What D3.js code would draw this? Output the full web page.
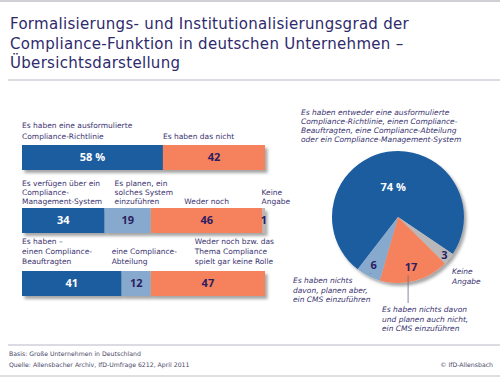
<!DOCTYPE html>
<html>
<head>
<meta charset="utf-8">
<script src="https://cdn.jsdelivr.net/npm/d3@7"></script>
<style>
  html, body { margin: 0; padding: 0; background: #fff; }
  svg { display: block; font-family: "DejaVu Sans", sans-serif; }
  .lbl { fill: #3a3370; font-size: 7.5px; }
  .pie-lbl { fill: #3a3370; font-size: 7.5px; font-style: italic; }
  .num { font-family: "Open Sans", sans-serif; font-size: 11px; font-weight: 700; }
  .foot { fill: #4a4868; font-size: 6.2px; }
</style>
</head>
<body>
<div id="chart"></div>
<script>
// ---- data ----
const titleLines = [
  "Formalisierungs- und Institutionalisierungsgrad der",
  "Compliance-Funktion in deutschen Unternehmen –",
  "Übersichtsdarstellung",
];

const richtlinieValues = [58, 42];
const richtlinieLabels = [
  ["Es haben eine ausformulierte", "Compliance-Richtlinie"],
  ["Es haben das nicht"],
];

const cmsValues = [34, 19, 46, 1];
const cmsLabels = [
  ["Es verfügen über ein", "Compliance-", "Management-System"],
  ["Es planen, ein", "solches System", "einzuführen"],
  ["Weder noch"],
  ["Keine", "Angabe"],
];

const beauftragteValues = [41, 12, 47];
const beauftragteLabels = [
  ["Es haben –", "einen Compliance-", "Beauftragten"],
  ["eine Compliance-", "Abteilung"],
  ["Weder noch bzw. das", "Thema Compliance", "spielt gar keine Rolle"],
];

const pieCategories = ["ja", "keine", "nein", "geplant"];
const pieValues = [74, 3, 17, 6];
const pieHeader = [
  "Es haben entweder eine ausformulierte",
  "Compliance-Richtlinie, einen Compliance-",
  "Beauftragten, eine Compliance-Abteilung",
  "oder ein Compliance-Management-System",
];
const pieNotes = {
  geplant: ["Es haben nichts", "davon, planen aber,", "ein CMS einzuführen"],
  nein: ["Es haben nichts davon", "und planen auch nicht,", "ein CMS einzuführen"],
  keine: ["Keine", "Angabe"],
};

const footLines = [
  "Basis: Große Unternehmen in Deutschland",
  "Quelle: Allensbacher Archiv, IfD-Umfrage 6212, April 2011",
];
const copyright = "© IfD-Allensbach";

// ---- styles / layout ----
const dark = "#1e5da0";
const light = "#87a9cd";
const orange = "#f5815d";
const grey = "#b8b8ba";
const navy = "#2b1d62";

const rowData = [
  { values: richtlinieValues, labels: richtlinieLabels, colors: [dark, orange] },
  { values: cmsValues, labels: cmsLabels, colors: [dark, light, orange, grey] },
  { values: beauftragteValues, labels: beauftragteLabels, colors: [dark, light, orange] },
];

// label x offset from segment start ("mid" = centered on segment)
const labelDx = [
  [0, 0],
  [0, 10, "mid", -1],
  [0, -10, 44],
];
const labelBottom = [-6, -4, -7];
const lineH = [11, 9.2, 10];

const W = 500, H = 377;
const svg = d3.select("#chart").append("svg").attr("width", W).attr("height", H);

const defs = svg.append("defs");
const shadow = defs.append("filter").attr("id", "shadow")
  .attr("x", "-10%").attr("y", "-30%").attr("width", "130%").attr("height", "180%");
shadow.append("feDropShadow")
  .attr("dx", 2.5).attr("dy", 3).attr("stdDeviation", 1.8)
  .attr("flood-color", "#000").attr("flood-opacity", 0.35);

// frame lines
svg.append("line").attr("x1", 0).attr("x2", W).attr("y1", 1).attr("y2", 1)
  .attr("stroke", "#cfcfd6").attr("stroke-width", 2);
svg.append("line").attr("x1", 8).attr("x2", W).attr("y1", 80).attr("y2", 80)
  .attr("stroke", "#b9b7c9").attr("stroke-width", 1.2);
svg.append("line").attr("x1", 8).attr("x2", W).attr("y1", 345).attr("y2", 345)
  .attr("stroke", "#b9b7c9").attr("stroke-width", 1);
svg.append("line").attr("x1", 0).attr("x2", W).attr("y1", 376).attr("y2", 376)
  .attr("stroke", "#d5d5da").attr("stroke-width", 1.5);

// title
svg.append("text")
  .attr("fill", "#2e2a6c")
  .attr("font-size", 15)
  .attr("letter-spacing", 0.3)
  .selectAll("tspan")
  .data(titleLines)
  .join("tspan")
  .attr("x", 10)
  .attr("y", (d, i) => 29 + i * 19.5)
  .text((d) => d);

// ---- bars ----
const x = d3.scaleLinear().domain([0, 100]).range([22, 265]);
const yRow = d3.scaleLinear().domain([0, 2]).range([145, 271]);
const barH = 25;

rowData.forEach((row, ri) => {
  const starts = d3.cumsum([0, ...row.values]).slice(0, row.values.length);
  const segs = row.values.map((v, i) => ({ v, s: starts[i], i }));
  const top = yRow(ri);

  const g = svg.append("g");
  g.append("g")
    .attr("filter", "url(#shadow)")
    .selectAll("rect")
    .data(segs)
    .join("rect")
    .attr("x", (d) => x(d.s))
    .attr("y", top)
    .attr("width", (d) => x(d.s + d.v) - x(d.s))
    .attr("height", barH)
    .attr("fill", (d) => row.colors[d.i]);

  g.selectAll(".num")
    .data(segs)
    .join("text")
    .attr("class", "num")
    .attr("x", (d) => x(d.s + d.v / 2))
    .attr("y", top + barH / 2)
    .attr("dy", "0.36em")
    .attr("text-anchor", "middle")
    .attr("fill", (d) => (row.colors[d.i] === dark ? "#fff" : navy))
    .text((d) => (ri === 0 && d.i === 0 ? `${d.v} %` : d.v));

  // category labels above bar
  segs.forEach((d) => {
    const lines = row.labels[d.i];
    const off = labelDx[ri][d.i];
    const mid = off === "mid";
    const lx = mid ? x(d.s + d.v / 2) : x(d.s) + off;
    const lastY = top + labelBottom[ri];
    g.append("text")
      .attr("class", "lbl")
      .attr("text-anchor", mid ? "middle" : "start")
      .selectAll("tspan")
      .data(lines)
      .join("tspan")
      .attr("x", lx)
      .attr("y", (t, k) => lastY - (lines.length - 1 - k) * lineH[ri])
      .text((t) => t);
  });
});

// ---- pie ----
const cx = 398, cy = 217, radius = 66;
const pieColors = d3.scaleOrdinal().domain(pieCategories).range([dark, grey, orange, light]);
const start = (-142.4 * Math.PI) / 180;
const pie = d3.pie().sort(null).startAngle(start).endAngle(start + 2 * Math.PI)
  .value((d) => d.v);
const arcs = pie(pieCategories.map((c, i) => ({ c, v: pieValues[i] })));
const arc = d3.arc().innerRadius(0).outerRadius(radius);
const labelR = { ja: 30, keine: 60, nein: 52, geplant: 54 };

const pg = svg.append("g").attr("transform", `translate(${cx},${cy})`);
pg.append("g")
  .attr("filter", "url(#shadow)")
  .selectAll("path")
  .data(arcs)
  .join("path")
  .attr("d", arc)
  .attr("fill", (d) => pieColors(d.data.c));

const labelPos = (d) =>
  d3.arc().innerRadius(labelR[d.data.c]).outerRadius(labelR[d.data.c]).centroid(d);

pg.selectAll(".num")
  .data(arcs)
  .join("text")
  .attr("class", "num")
  .attr("x", (d) => labelPos(d)[0])
  .attr("y", (d) => labelPos(d)[1])
  .attr("dy", "0.36em")
  .attr("text-anchor", "middle")
  .attr("fill", (d) => (d.data.c === "ja" ? "#fff" : navy))
  .text((d) => (d.data.c === "ja" ? `${d.data.v} %` : d.data.v));

// pie header
svg.append("text")
  .attr("class", "pie-lbl")
  .selectAll("tspan")
  .data(pieHeader)
  .join("tspan")
  .attr("x", 301)
  .attr("y", (d, i) => 115 + i * 9)
  .text((d) => d);

// pie notes
const noteAt = {
  geplant: { x: 293, y: 283 },
  nein: { x: 382, y: 312 },
  keine: { x: 452, y: 274 },
};
Object.entries(pieNotes).forEach(([key, lines]) => {
  svg.append("text")
    .attr("class", "pie-lbl")
    .selectAll("tspan")
    .data(lines)
    .join("tspan")
    .attr("x", noteAt[key].x)
    .attr("y", (d, i) => noteAt[key].y + i * 9.5)
    .text((d) => d);
});

// leader lines
["geplant", "nein"].forEach((key) => {
  const a = arcs.find((d) => d.data.c === key);
  const [lx, ly] = labelPos(a);
  svg.append("line")
    .attr("x1", cx + lx - 3).attr("x2", cx + lx - 3)
    .attr("y1", cy + ly + 8)
    .attr("y2", noteAt[key].y - 9)
    .attr("stroke", "#6a6a80").attr("stroke-width", 0.8);
});

// footer
svg.append("text")
  .attr("class", "foot")
  .selectAll("tspan")
  .data(footLines)
  .join("tspan")
  .attr("x", 9)
  .attr("y", (d, i) => 356 + i * 11)
  .text((d) => d);
svg.append("text")
  .attr("class", "foot")
  .attr("x", 493)
  .attr("y", 367)
  .attr("text-anchor", "end")
  .text(copyright);
</script>
</body>
</html>
